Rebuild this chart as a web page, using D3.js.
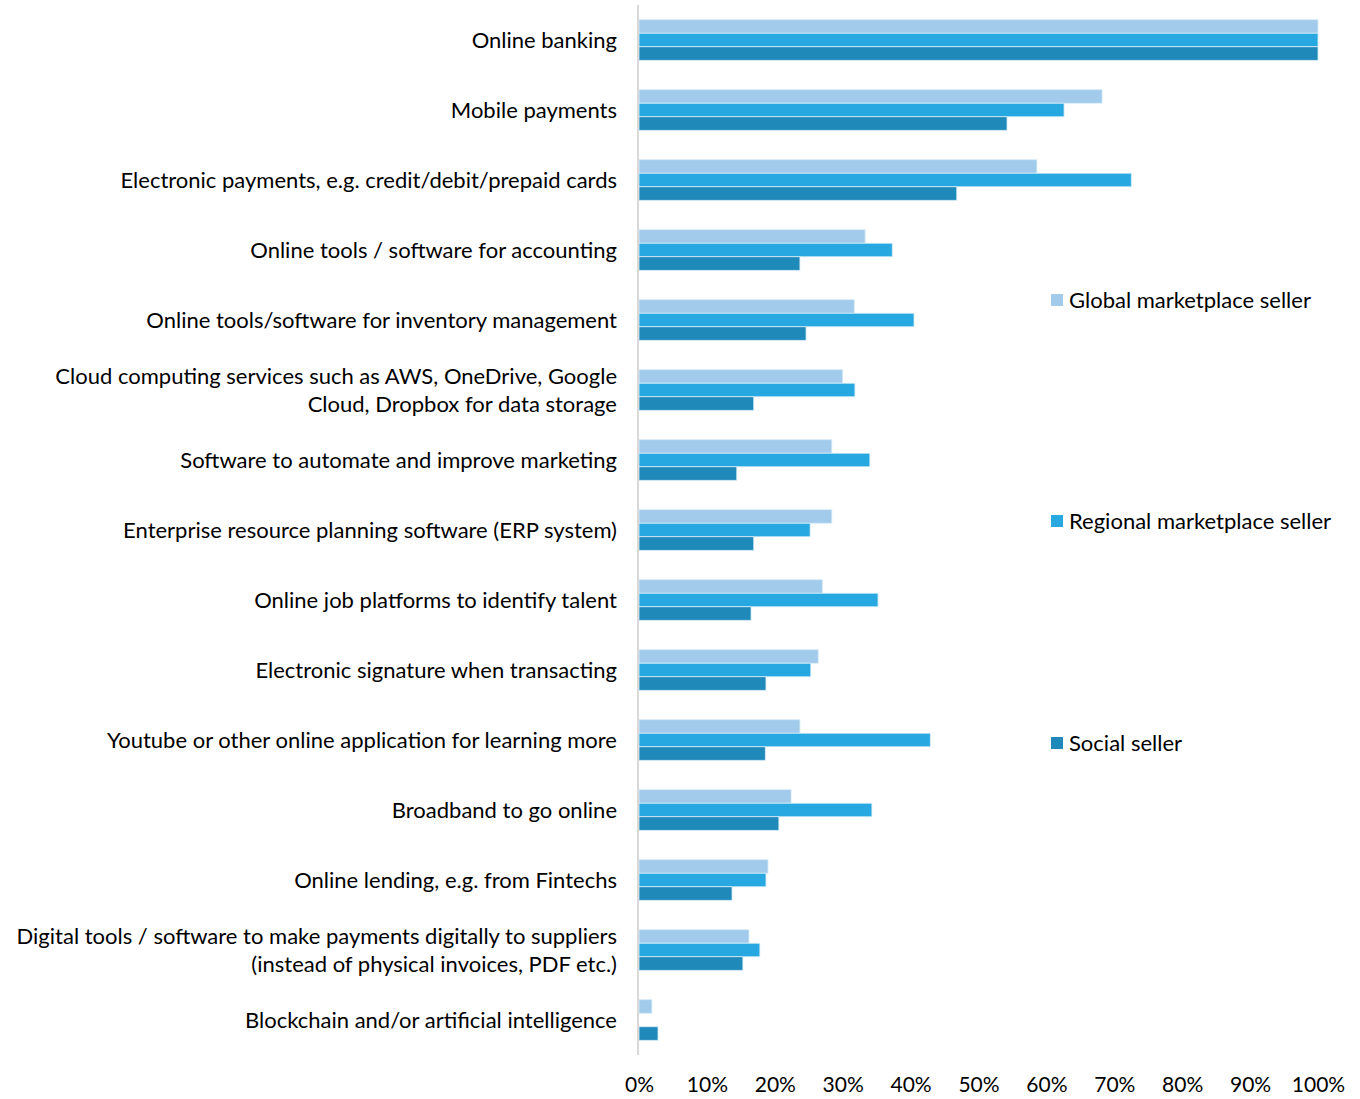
<!DOCTYPE html>
<html>
<head>
<meta charset="utf-8">
<script src="https://cdn.jsdelivr.net/npm/d3@7"></script>
<style>
  html, body { margin: 0; padding: 0; background: #ffffff; }
  svg text { font-family: "Lato", "Open Sans", sans-serif; fill: #000; }
</style>
</head>
<body>
<svg id="chart" width="1360" height="1099"></svg>
<script>
// Digital tools used, by seller type (share of respondents)
const categories = [
  "Online banking",
  "Mobile payments",
  "Electronic payments, e.g. credit/debit/prepaid cards",
  "Online tools / software for accounting",
  "Online tools/software for inventory management",
  "Cloud computing services such as AWS, OneDrive, Google|Cloud, Dropbox for data storage",
  "Software to automate and improve marketing",
  "Enterprise resource planning software (ERP system)",
  "Online job platforms to identify talent",
  "Electronic signature when transacting",
  "Youtube or other online application for learning more",
  "Broadband to go online",
  "Online lending, e.g. from Fintechs",
  "Digital tools / software to make payments digitally to suppliers|(instead of physical invoices, PDF etc.)",
  "Blockchain and/or artificial intelligence"
];

const seriesNames = ["Global marketplace seller", "Regional marketplace seller", "Social seller"];

const globalSeller   = [1.00, 0.682, 0.586, 0.333, 0.317, 0.300, 0.284, 0.284, 0.270, 0.264, 0.237, 0.224, 0.190, 0.162, 0.019];
const regionalSeller = [1.00, 0.626, 0.725, 0.373, 0.405, 0.318, 0.340, 0.252, 0.352, 0.253, 0.429, 0.343, 0.187, 0.178, 0.000];
const socialSeller   = [1.00, 0.542, 0.468, 0.237, 0.246, 0.169, 0.144, 0.169, 0.165, 0.187, 0.186, 0.206, 0.137, 0.153, 0.028];

const xTicks = [0, 0.1, 0.2, 0.3, 0.4, 0.5, 0.6, 0.7, 0.8, 0.9, 1.0];

const colors = ["#a2cbeb", "#28a8e0", "#1f89b9"];
const seriesValues = [globalSeller, regionalSeller, socialSeller];

const svg = d3.select("#chart");

const x = d3.scaleLinear().domain([0, 1]).range([639, 1318]);
const y = d3.scaleBand().domain(categories).range([5, 1055])
  .paddingInner(0.42).paddingOuter(0.21);
const ySub = d3.scaleBand().domain(seriesNames).range([0, y.bandwidth()]).padding(0);

const rows = categories.map((c, i) => ({
  cat: c,
  vals: seriesNames.map((s, j) => ({ series: s, value: seriesValues[j][i], color: colors[j] }))
}));

// bars
const groups = svg.append("g").selectAll("g.row")
  .data(rows).join("g")
  .attr("class", "row")
  .attr("transform", d => `translate(0,${y(d.cat)})`);

groups.selectAll("rect")
  .data(d => d.vals.filter(v => v.value > 0))
  .join("rect")
  .attr("x", x(0))
  .attr("y", d => ySub(d.series))
  .attr("width", d => x(d.value) - x(0))
  .attr("height", ySub.bandwidth())
  .attr("fill", d => d.color)
  .attr("stroke", "#d6ecf8")
  .attr("stroke-width", 0.8);

// vertical axis line
svg.append("line")
  .attr("x1", x(0) - 1).attr("x2", x(0) - 1)
  .attr("y1", 5).attr("y2", 1055)
  .attr("stroke", "#d9d9d9").attr("stroke-width", 2);

// category labels
const labels = svg.append("g").selectAll("text")
  .data(categories).join("text")
  .attr("x", 617)
  .attr("text-anchor", "end")
  .attr("font-size", 22);

labels.each(function(d) {
  const lines = d.split("|");
  const cy = y(d) + y.bandwidth() / 2;
  const lh = 28;
  const t = d3.select(this);
  lines.forEach((ln, k) => {
    t.append("tspan")
      .attr("x", 617)
      .attr("y", cy + (k - (lines.length - 1) / 2) * lh)
      .attr("dy", "0.35em")
      .text(ln);
  });
});

// x axis tick labels
const xAxis = d3.axisBottom(x).tickValues(xTicks).tickFormat(d3.format(".0%")).tickSize(0);
const gx = svg.append("g").attr("transform", "translate(0,1074)").call(xAxis);
gx.select(".domain").remove();
gx.selectAll("text").attr("font-size", 21).attr("font-family", "Lato, sans-serif").attr("fill", "#000").attr("dy", "0.72em");

// legend
const legendY = [300, 521, 743];
const legend = svg.append("g").selectAll("g")
  .data(seriesNames).join("g")
  .attr("transform", (d, i) => `translate(1051,${legendY[i]})`);
legend.append("rect")
  .attr("x", 0).attr("y", -6).attr("width", 12).attr("height", 12)
  .attr("fill", (d, i) => colors[i]);
legend.append("text")
  .attr("x", 18).attr("dy", "0.35em")
  .attr("font-size", 22)
  .text(d => d);
</script>
</body>
</html>
